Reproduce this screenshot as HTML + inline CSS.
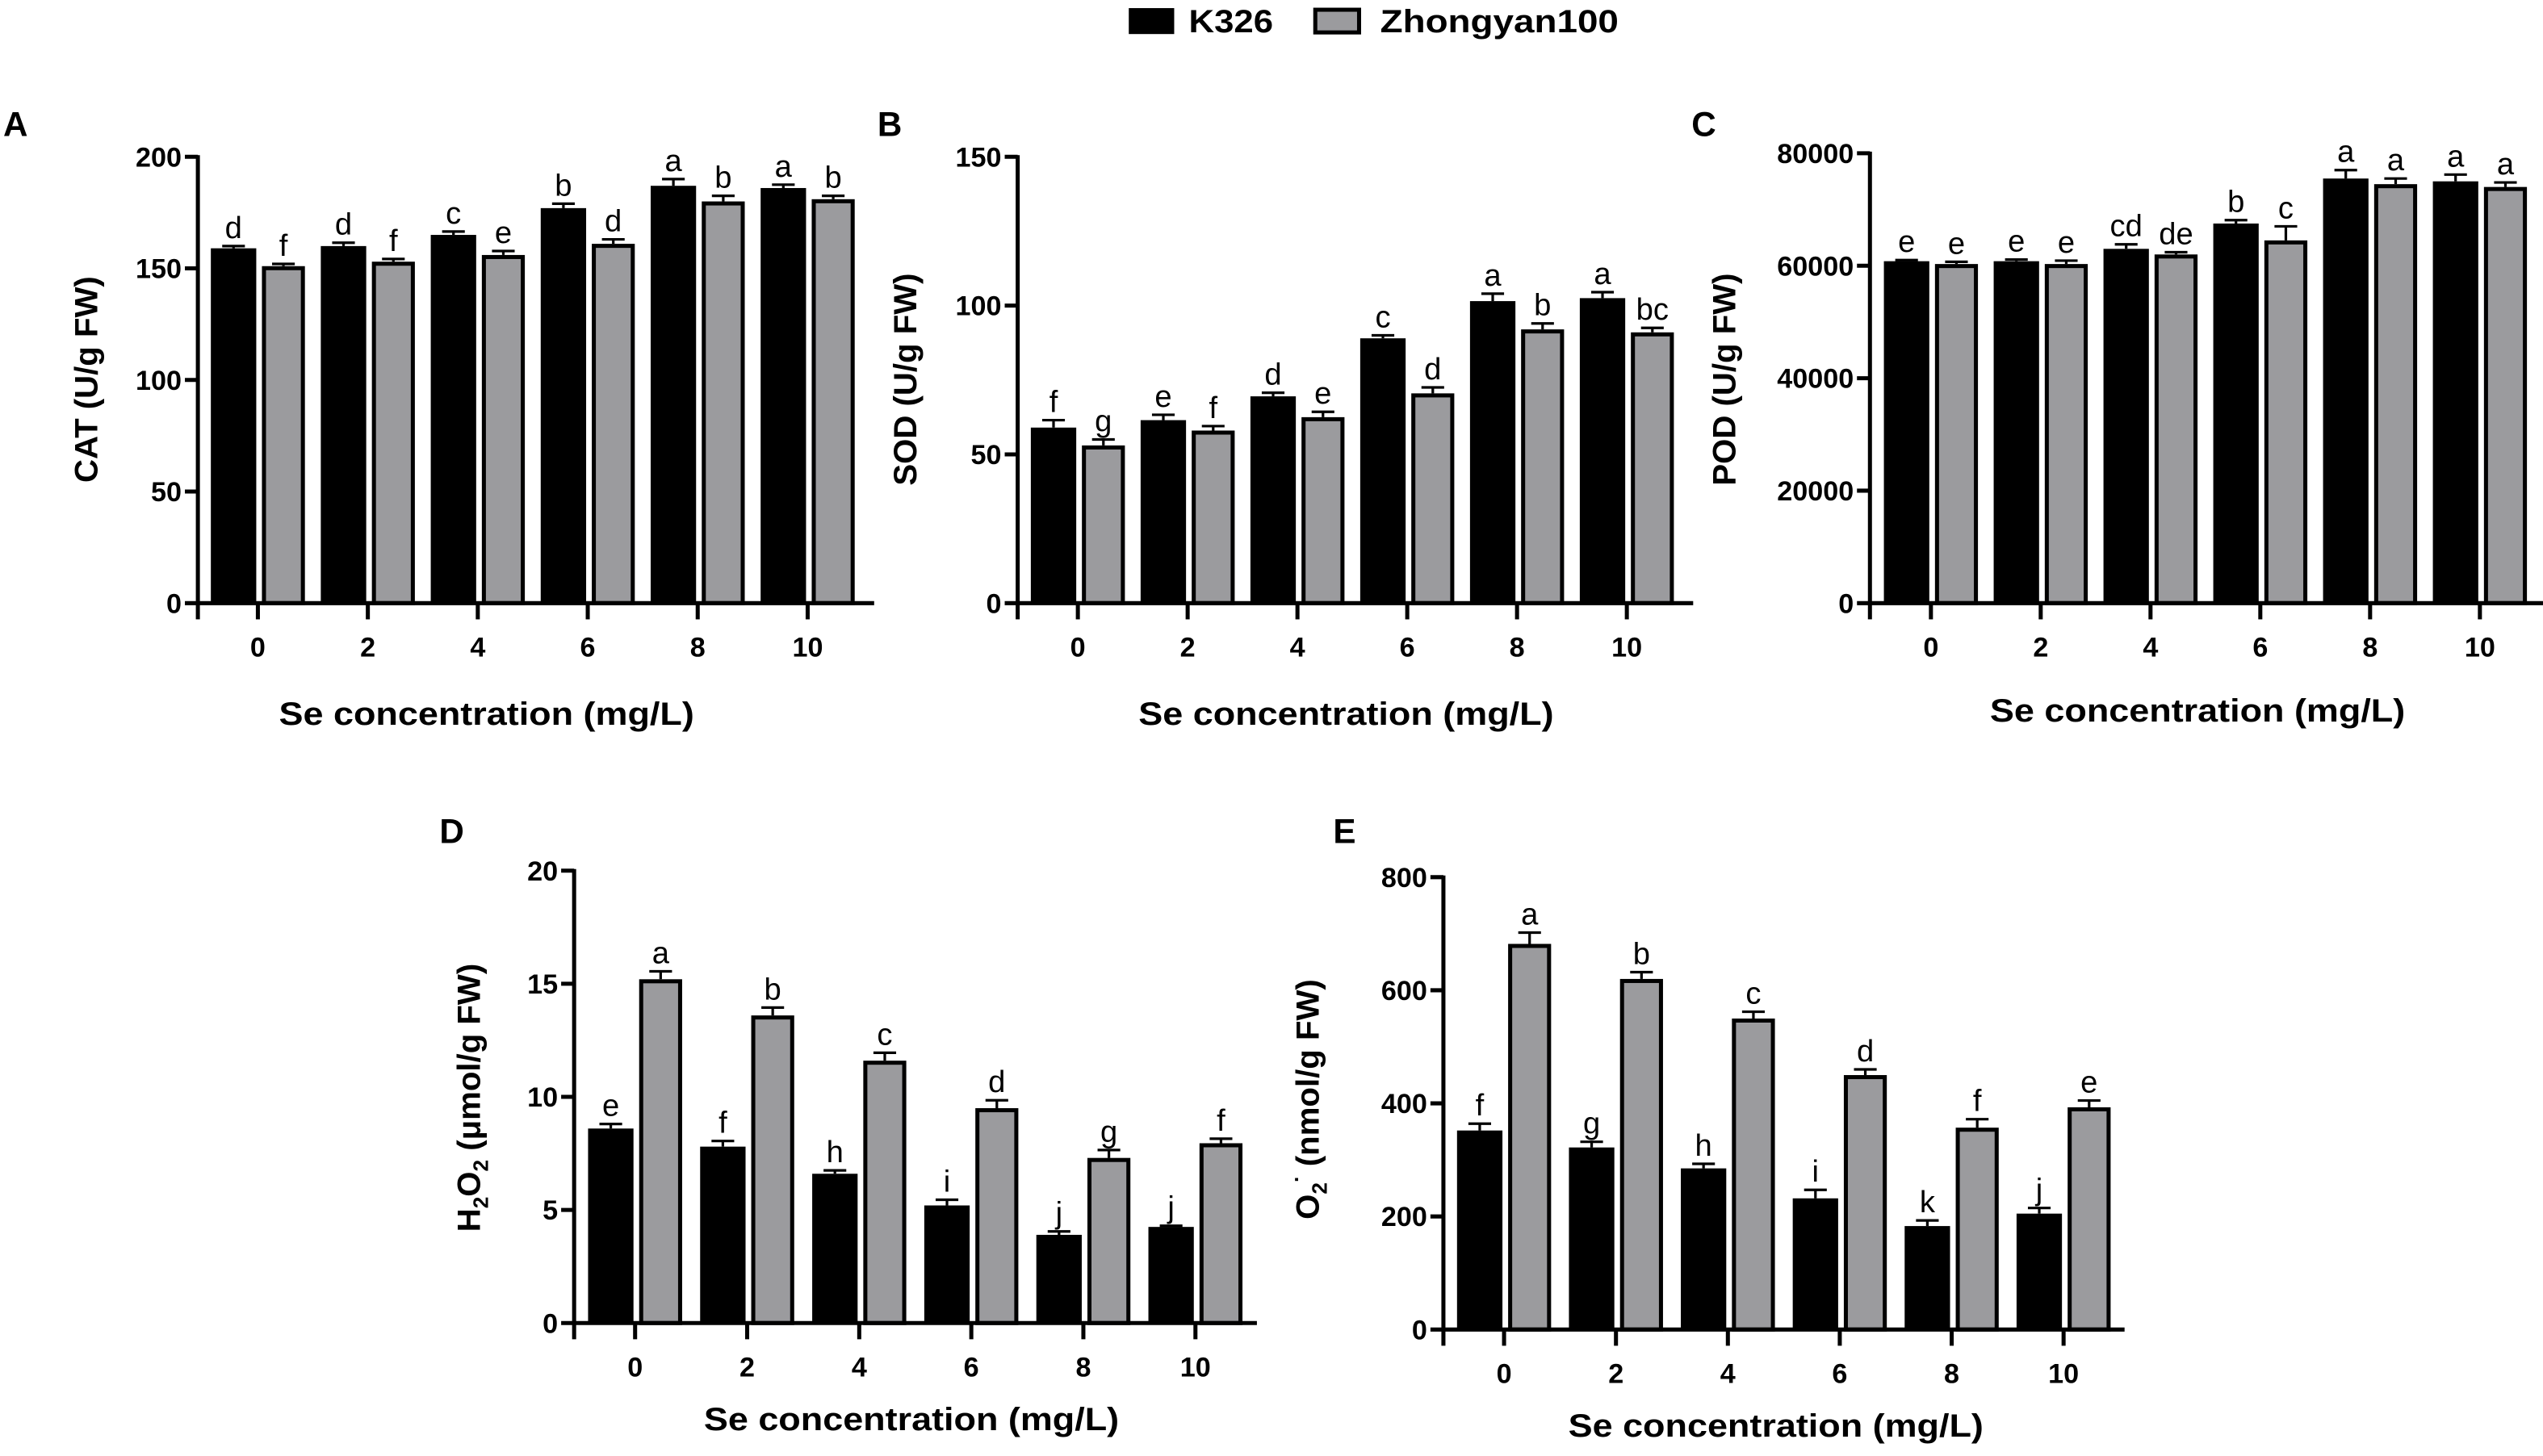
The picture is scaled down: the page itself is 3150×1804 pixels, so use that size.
<!DOCTYPE html>
<html><head><meta charset="utf-8">
<style>
html,body{margin:0;padding:0;background:#fff;}
svg{display:block;}
text{font-family:"Liberation Sans",Arial,sans-serif;}
</style></head>
<body>
<svg id="fig" width="3150" height="1804" viewBox="0 0 1568 898" xmlns="http://www.w3.org/2000/svg">
<rect x="0" y="0" width="1568" height="898" fill="#fff"/>
<g>
  <g>
    <rect x="696" y="5" width="28" height="16" fill="#000"/>
    <text x="733" y="20" font-size="20" font-weight="bold" textLength="52" lengthAdjust="spacingAndGlyphs">K326</text>
  </g>
  <g>
    <rect x="811" y="6" width="27" height="14" fill="#9b9b9e" stroke="#000" stroke-width="2.5"/>
    <text x="851" y="20" font-size="20" font-weight="bold" textLength="147" lengthAdjust="spacingAndGlyphs">Zhongyan100</text>
  </g>
</g>
</svg>
<script>
// ---- Data ----
const categories = ["0","2","4","6","8","10"];

const catK326 = [159,160,165,177,187,186];
const catZY = [151,153,156,161,180,181];
const catK326Err = [1,1.5,1.5,2,3,1.5];
const catZYErr = [1,1.2,1.8,2,2.5,1.5];
const catK326Sig = ["d","d","c","b","a","a"];
const catZYSig = ["f","f","e","d","b","b"];
const catTicks = [0,50,100,150,200];

const sodK326 = [59,61.5,69.5,89,101.5,102.5];
const sodZY = [53,58,62.5,70.5,92,91];
const sodK326Err = [2.5,1.8,1.2,1,2.5,2];
const sodZYErr = [2,1.5,1.8,2,2,1.5];
const sodK326Sig = ["f","e","d","c","a","a"];
const sodZYSig = ["g","f","e","d","b","bc"];
const sodTicks = [0,50,100,150];

const podK326 = [60800,60800,63000,67500,75500,75000];
const podZY = [60300,60300,62000,64500,74500,74000];
const podK326Err = [200,300,800,600,1500,1200];
const podZYErr = [400,600,400,2500,1000,800];
const podK326Sig = ["e","e","cd","b","a","a"];
const podZYSig = ["e","e","de","c","a","a"];
const podTicks = [0,20000,40000,60000,80000];

const h2o2K326 = [8.6,7.8,6.6,5.2,3.9,4.25];
const h2o2ZY = [15.2,13.6,11.6,9.5,7.3,7.95];
const h2o2K326Err = [0.2,0.25,0.15,0.25,0.15,0.05];
const h2o2ZYErr = [0.35,0.35,0.35,0.35,0.35,0.2];
const h2o2K326Sig = ["e","f","h","i","j","j"];
const h2o2ZYSig = ["a","b","c","d","g","f"];
const h2o2Ticks = [0,5,10,15,20];

const o2K326 = [352,322,285,232,183,205];
const o2ZY = [682,620,550,450,357,393];
const o2K326Err = [12,10,8,15,10,10];
const o2ZYErr = [20,12,12,10,15,12];
const o2K326Sig = ["f","g","h","i","k","j"];
const o2ZYSig = ["a","b","c","d","f","e"];
const o2Ticks = [0,200,400,600,800];

// ---- Rendering ----
const NS = "http://www.w3.org/2000/svg";
const svg = document.getElementById("fig");
function mk(tag, attrs, parent){
  const e = document.createElementNS(NS, tag);
  for (const k in attrs) e.setAttribute(k, attrs[k]);
  (parent||svg).appendChild(e);
  return e;
}

function panel(cfg){
  const g = mk("g", {});
  
  
  const ymax = cfg.ticks[cfg.ticks.length-1];
  const yScale = v => cfg.y0 - (v/ymax)*(cfg.y0-cfg.yTop);
  const xScale = i => cfg.x0 + i*cfg.step;

  // panel letter
  const L = mk("text", {x:cfg.letterX, y:cfg.letterY, "font-size":21, "font-weight":"bold"}, g);
  L.textContent = cfg.letter;
  
  

  // bars
  for (let i=0;i<categories.length;i++){
    const cx = xScale(i);
    const series = [
      {v:cfg.k[i], e:cfg.ke[i], s:cfg.ks[i], x1:cx-29, x2:cx-1, fill:"#000", nm:"bar-k326"},
      {v:cfg.z[i], e:cfg.ze[i], s:cfg.zs[i], x1:cx+2.5, x2:cx+29, fill:"#9b9b9e", nm:"bar-zhongyan100"}
    ];
    series.forEach(sr=>{
      const yt = yScale(sr.v);
      const ye = yScale(sr.v+sr.e);
      const cxx = (sr.x1+sr.x2)/2;
      // error bar
      const eb = mk("path", {d:`M${cxx} ${yt} V${ye} M${cxx-7} ${ye} H${cxx+7}`, stroke:"#000", "stroke-width":1.6, fill:"none"}, g);
      
      
      let r;
      if (sr.fill === "#000"){
        r = mk("rect", {x:sr.x1, y:yt, width:sr.x2-sr.x1, height:cfg.y0-yt, fill:"#000"}, g);
      } else {
        r = mk("rect", {x:sr.x1+1.25, y:yt+1.25, width:sr.x2-sr.x1-2.5, height:cfg.y0-yt-1.25, fill:sr.fill, stroke:"#000", "stroke-width":2.5}, g);
      }
      
      
      const t = mk("text", {x:cxx, y:ye-5, "font-size":19, "text-anchor":"middle"}, g);
      t.textContent = sr.s;
      
      
    });
  }

  // axes
  const ya = mk("line", {x1:cfg.ax, y1:cfg.yTop-1, x2:cfg.ax, y2:cfg.y0+10, stroke:"#000", "stroke-width":2.5}, g);
  
  
  const xa = mk("line", {x1:cfg.ax, y1:cfg.y0, x2:cfg.axEnd, y2:cfg.y0, stroke:"#000", "stroke-width":2.5}, g);
  
  

  cfg.ticks.forEach(tv=>{
    const y = yScale(tv);
    const tk = mk("line", {x1:cfg.ax-8, y1:y, x2:cfg.ax, y2:y, stroke:"#000", "stroke-width":2.5}, g);
    
    
    const tl = mk("text", {x:cfg.ax-10, y:y+6, "font-size":17, "font-weight":"bold", "text-anchor":"end"}, g);
    tl.textContent = String(tv);
    
    
  });
  categories.forEach((c,i)=>{
    const x = xScale(i);
    const tk = mk("line", {x1:x, y1:cfg.y0, x2:x, y2:cfg.y0+10, stroke:"#000", "stroke-width":2.5}, g);
    
    
    const tl = mk("text", {x:x, y:cfg.y0+33, "font-size":17, "font-weight":"bold", "text-anchor":"middle"}, g);
    tl.textContent = c;
    
    
  });

  // titles
  const xt = mk("text", {x:cfg.xtX, y:cfg.xtY, "font-size":20, "font-weight":"bold", "text-anchor":"middle", textLength:256, lengthAdjust:"spacingAndGlyphs"}, g);
  xt.textContent = "Se concentration (mg/L)";
  
  

  const yt = mk("text", {x:0, y:0, "font-size":20, "font-weight":"bold", "text-anchor":"middle",
    transform:`translate(${cfg.ytX},${cfg.ytY}) rotate(-90)`}, g);
  yt.innerHTML = cfg.ytitle;
  
  
}

panel({name:"panel-a-cat", letter:"A", letterX:2, letterY:84,
  ax:122, axEnd:539, x0:159, step:67.8, y0:372, yTop:96.7,
  ticks:catTicks, k:catK326, z:catZY, ke:catK326Err, ze:catZYErr, ks:catK326Sig, zs:catZYSig,
  xtX:300, xtY:447, ytX:60, ytY:234, ytitle:"CAT (U/g FW)"});

panel({name:"panel-b-sod", letter:"B", letterX:541, letterY:84,
  ax:627.5, axEnd:1044, x0:664.6, step:67.7, y0:372, yTop:96.7,
  ticks:sodTicks, k:sodK326, z:sodZY, ke:sodK326Err, ze:sodZYErr, ks:sodK326Sig, zs:sodZYSig,
  xtX:830, xtY:447, ytX:565, ytY:234, ytitle:"SOD (U/g FW)"});

panel({name:"panel-c-pod", letter:"C", letterX:1043, letterY:84,
  ax:1153, axEnd:1568, x0:1190.6, step:67.7, y0:372, yTop:94.5,
  ticks:podTicks, k:podK326, z:podZY, ke:podK326Err, ze:podZYErr, ks:podK326Sig, zs:podZYSig,
  xtX:1355, xtY:445, ytX:1070, ytY:234, ytitle:"POD (U/g FW)"});

panel({name:"panel-d-h2o2", letter:"D", letterX:271, letterY:520,
  ax:354, axEnd:775, x0:391.6, step:69.1, y0:816, yTop:537,
  ticks:h2o2Ticks, k:h2o2K326, z:h2o2ZY, ke:h2o2K326Err, ze:h2o2ZYErr, ks:h2o2K326Sig, zs:h2o2ZYSig,
  xtX:562, xtY:882, ytX:296, ytY:677,
  ytitle:'H<tspan font-size="13" dy="5">2</tspan><tspan dy="-5">O</tspan><tspan font-size="13" dy="5">2</tspan><tspan dy="-5"> (μmol/g FW)</tspan>'});

panel({name:"panel-e-superoxide", letter:"E", letterX:822, letterY:520,
  ax:890, axEnd:1310, x0:927.4, step:69, y0:820, yTop:541,
  ticks:o2Ticks, k:o2K326, z:o2ZY, ke:o2K326Err, ze:o2ZYErr, ks:o2K326Sig, zs:o2ZYSig,
  xtX:1095, xtY:886, ytX:813, ytY:678,
  ytitle:'O<tspan font-size="13" dy="5">2</tspan><tspan font-size="13" dy="-14">·</tspan><tspan dy="9"> (nmol/g FW)</tspan>'});
</script>
</body></html>
